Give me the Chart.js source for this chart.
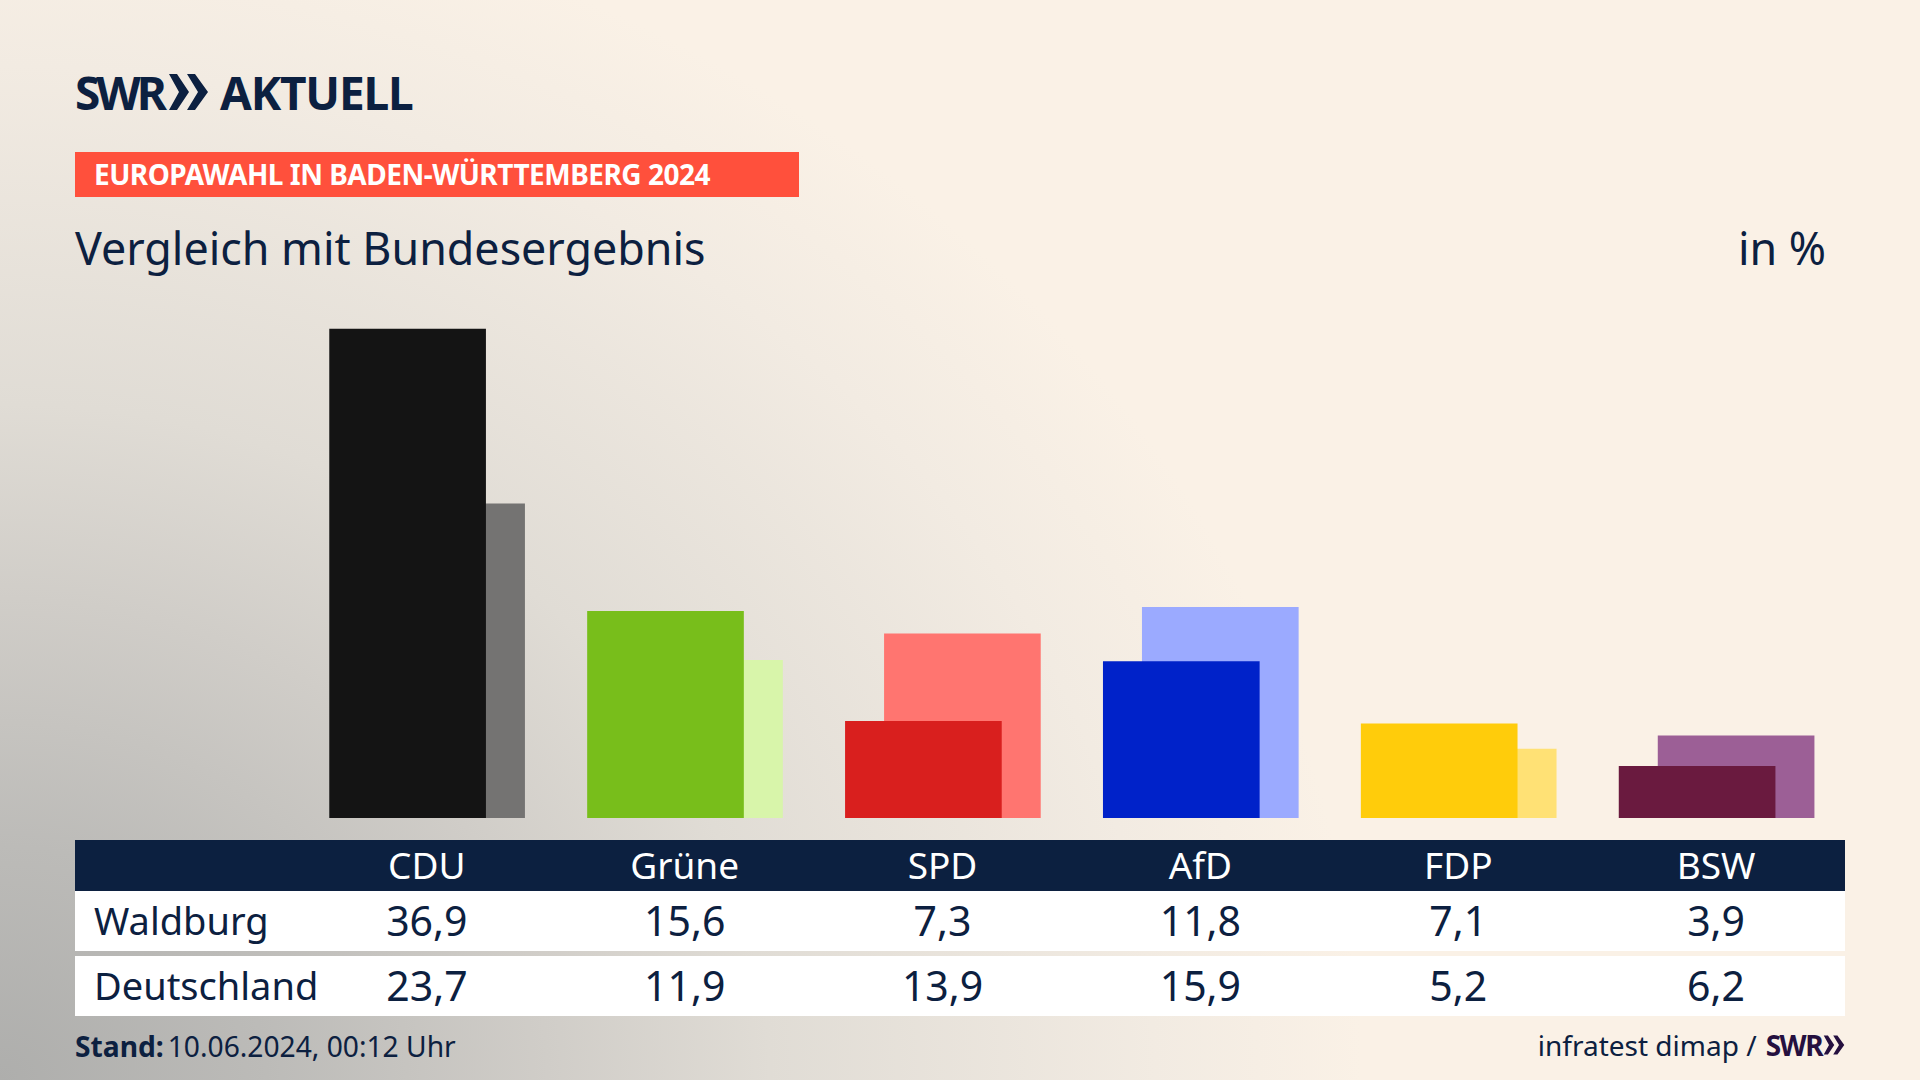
<!DOCTYPE html>
<html lang="de">
<head>
<meta charset="utf-8">
<title>Europawahl in Baden-Württemberg 2024</title>
<script src="https://cdn.jsdelivr.net/npm/chart.js@4"></script>
<style>
  * { box-sizing: border-box; margin: 0; padding: 0; }
  html, body { width: 1920px; height: 1080px; overflow: hidden; }
  body {
    position: relative;
    font-family: 'Noto Sans', sans-serif;
    color: #0c2040;
    background: radial-gradient(ellipse 1480px 1300px at 0 1080px, #aeaeac 0%, #bcbbb8 18%, #d0cdc8 37%, #e0dcd5 52%, #f2ebe2 78%, #faf1e6 92%) #faf1e6;
  }
  .abs { position: absolute; white-space: nowrap; }
  #logo { left: 75px; top: 62px; height: 60px; line-height: 60px; font-size: 46px; font-weight: 700; letter-spacing: -1.2px; display: flex; align-items: center; }
  #logo .swr { letter-spacing: -4px; }
  #logo svg { margin: 0 12px 0 6px; }
  #banner { left: 75px; top: 152px; width: 724px; height: 45px; line-height: 45px; padding-left: 19px; background: #ff503c; color: #fff; font-size: 28px; font-weight: 700; letter-spacing: -0.5px; }
  #title { left: 75px; top: 218px; font-size: 44.8px; line-height: 60px; }
  #unit { right: 94px; top: 218px; font-size: 44.8px; line-height: 60px; }
  #chartBox { position: absolute; left: 0; top: 280px; width: 1920px; height: 538px; }
  #table { position: absolute; left: 75px; top: 840px; width: 1770px; }
  .row { display: flex; align-items: center; background: #fff; height: 60px; font-size: 38px; padding-bottom: 2px; }
  .row.head { background: #0c2040; color: #fff; height: 51px; font-size: 37px; }
  .row.second { margin-top: 5px; }
  .row .name { width: 223px; padding-left: 19px; white-space: nowrap; }
  .row .cell { width: 258px; text-align: center; font-size: 41px; }
  .row.head .cell { font-size: 37px; }
  #stand { left: 75px; top: 1027px; font-size: 28.2px; line-height: 38px; }
  #stand b { margin-right: 4px; }
  #source { right: 75px; top: 1026px; font-size: 28px; line-height: 38px; display: flex; align-items: center; }
  #source b { color: #25103f; margin-left: 9px; letter-spacing: -1.5px; }
</style>
</head>
<body>
<div class="abs" id="logo"><span class="swr">SWR</span><svg width="39" height="38" viewBox="0 0 39 38"><path fill="#0c2040" d="M0 1 L8 1 L20 19 L8 37 L0 37 L10 19 Z M18 1 L26 1 L39 19 L26 37 L18 37 L29 19 Z"/></svg>AKTUELL</div>
<div class="abs" id="banner">EUROPAWAHL IN BADEN-WÜRTTEMBERG 2024</div>
<div class="abs" id="title">Vergleich mit Bundesergebnis</div>
<div class="abs" id="unit">in %</div>
<div id="chartBox"><canvas id="chart" width="1920" height="538"></canvas></div>
<div id="table"></div>
<div class="abs" id="stand"><b>Stand:</b>10.06.2024, 00:12 Uhr</div>
<div class="abs" id="source">infratest dimap /<b>SWR</b><svg width="22" height="20" viewBox="0 0 39 38" style="margin-left:1px"><path fill="#25103f" d="M0 1 L8 1 L20 19 L8 37 L0 37 L10 19 Z M18 1 L26 1 L39 19 L26 37 L18 37 L29 19 Z"/></svg></div>

<script>
// ===== Wahldaten =====
const PARTIES = ['CDU', 'Grüne', 'SPD', 'AfD', 'FDP', 'BSW'];
const WALDBURG = [36.9, 15.6, 7.3, 11.8, 7.1, 3.9];
const DEUTSCHLAND = [23.7, 11.9, 13.9, 15.9, 5.2, 6.2];

const COLORS_FRONT = ['#141414', '#78be1b', '#d91f1e', '#0022c9', '#ffcc0b', '#6a1a3f'];
const COLORS_BACK = ['#747372', '#d8f5aa', '#ff7570', '#9baaff', '#ffe175', '#9c5f96'];

// Layout in px
const GROUP_STEP = 257.9;
const BAR_WIDTH = 156;
const FIRST_BAR_CENTER = 407.6;
const BACK_SHIFT = 39 / GROUP_STEP;

const fmt = v => v.toFixed(1).replace('.', ',');

function addRow(cls, name, cells) {
    const row = document.createElement('div');
    row.className = 'row ' + cls;
    row.innerHTML = `<div class="name">${name}</div>` +
        cells.map(c => `<div class="cell">${c}</div>`).join('');
    document.getElementById('table').appendChild(row);
}

addRow('head', '', PARTIES);
addRow('', 'Waldburg', WALDBURG.map(fmt));
addRow('second', 'Deutschland', DEUTSCHLAND.map(fmt));

const xMin = -FIRST_BAR_CENTER / GROUP_STEP;

new Chart(document.getElementById('chart').getContext('2d'), {
    type: 'bar',
    data: {
        datasets: [
            {
                label: 'Waldburg',
                data: WALDBURG.map((y, i) => ({ x: i, y })),
                backgroundColor: COLORS_FRONT
            },
            {
                label: 'Deutschland',
                data: DEUTSCHLAND.map((y, i) => ({ x: i + BACK_SHIFT, y })),
                backgroundColor: COLORS_BACK
            }
        ]
    },
    options: {
        responsive: false,
        animation: false,
        layout: { padding: 0 },
        grouped: false,
        barThickness: BAR_WIDTH,
        borderWidth: 0,
        plugins: {
            legend: { display: false },
            tooltip: { enabled: false }
        },
        scales: {
            // bar charts default the index axis to offset: true, which would shift the pixels
            x: { type: 'linear', display: false, offset: false, min: xMin, max: xMin + 1920 / GROUP_STEP },
            y: { display: false, min: 0, max: 40.6 }
        }
    }
});
</script>
</body>
</html>
